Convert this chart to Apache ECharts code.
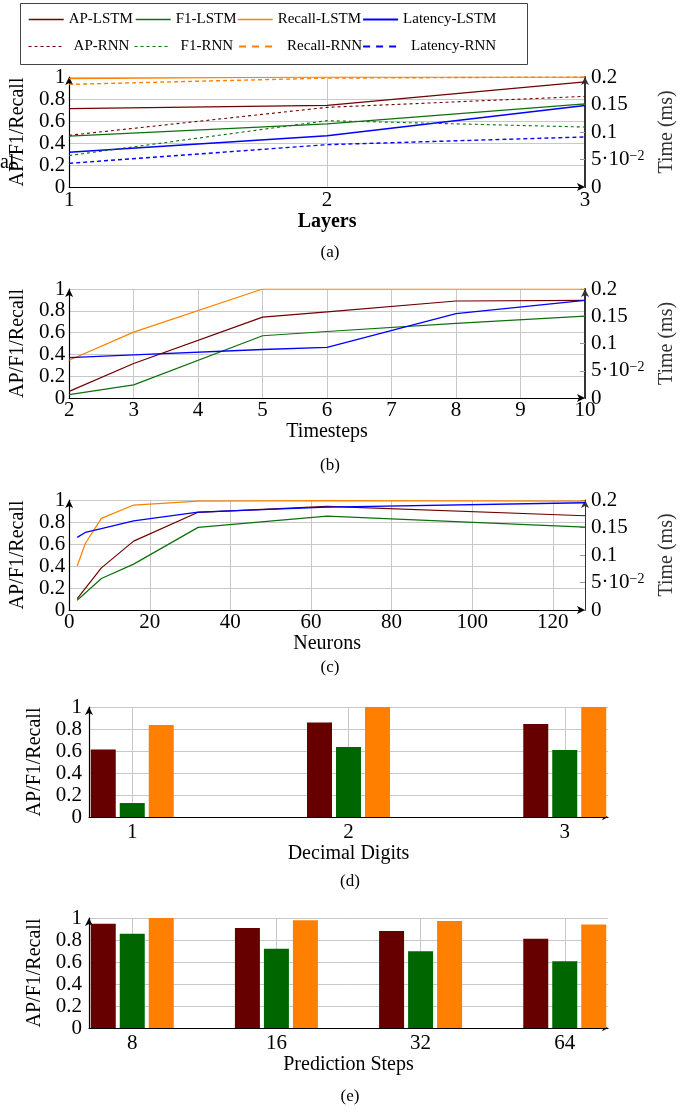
<!DOCTYPE html>
<html>
<head>
<meta charset="utf-8">
<title>LSTM / RNN</title>
<script src="https://cdn.jsdelivr.net/npm/echarts@6.0.0/dist/echarts.min.js"></script>
<style>
html, body { margin: 0; padding: 0; background: #fff; }
#chart { width: 694px; height: 1113px; }
</style>
</head>
<body>
<div id="chart"></div>
<script>
// (a) layers
var layers = [1, 2, 3];
var apLstmA = [0.713, 0.742, 0.956];
var f1LstmA = [0.462, 0.573, 0.755];
var recallLstmA = [0.985, 1.0, 1.0];
var latencyLstmA = [0.063, 0.093, 0.148];
var apRnnA = [0.47, 0.724, 0.824];
var f1RnnA = [0.286, 0.603, 0.545];
var recallRnnA = [0.933, 0.99, 1.0];
var latencyRnnA = [0.043, 0.077, 0.091];

// (b) timesteps
var timesteps = [2, 3, 5, 6, 8, 10];
var apB = [0.061, 0.316, 0.742, 0.791, 0.89, 0.896];
var f1B = [0.031, 0.12, 0.571, 0.61, 0.684, 0.752];
var recallB = [0.347, 0.604, 1.0, 1.0, 1.0, 1.0];
var latencyB = [0.074, 0.079, 0.089, 0.093, 0.155, 0.179];

// (c) neurons
var neurons = [2, 4, 8, 16, 32, 64, 128];
var apC = [0.104, null, 0.383, 0.626, 0.888, 0.942, 0.857];
var f1C = [0.088, null, 0.286, 0.417, 0.751, 0.854, 0.754];
var recallC = [0.40, 0.605, 0.833, 0.954, 0.99, 0.995, 0.99];
var latencyC = [0.132, 0.141, 0.148, 0.162, 0.178, 0.187, 0.195];

// (d) decimal digits
var digitPos = [1, 2, 3];
var digitLabels = ['1', '2', '3'];
var apD = [0.614, 0.858, 0.846];
var f1D = [0.127, 0.636, 0.608];
var recallD = [0.837, 1.0, 1.0];

// (e) prediction steps
var stepPos = [0, 1, 2, 3];
var stepLabels = ['8', '16', '32', '64'];
var apE = [0.948, 0.909, 0.881, 0.811];
var f1E = [0.857, 0.72, 0.698, 0.607];
var recallE = [1.0, 0.979, 0.973, 0.942];

var timeTickLabels = ['0', '5·10{sup|−2}', '0.1', '0.15', '0.2'];
var legendNames = ['AP-LSTM', 'F1-LSTM', 'Recall-LSTM', 'Latency-LSTM',
                   'AP-RNN', 'F1-RNN', 'Recall-RNN', 'Latency-RNN'];

var FONT = 'Liberation Serif';
var C_AP = '#700000', C_F1 = '#0d700d', C_RE = '#ff8000', C_LAT = '#0000ff';
var C_AP_BAR = '#660000', C_F1_BAR = '#006600';
var GRID_C = '#c8c8c8';

function pairs(xs, ys) {
    return xs.map(function (x, i) { return [x, ys[i]]; });
}

function line(name, xs, ys, axis, yAxis, color, width, type) {
    return {
        type: 'line', name: name, xAxisIndex: axis, yAxisIndex: yAxis,
        data: pairs(xs, ys), symbol: 'none', connectNulls: true, silent: true,
        lineStyle: { color: color, width: width, type: type || 'solid' },
        itemStyle: { color: color }
    };
}

function bar(name, xs, ys, axis, yAxis, color) {
    return {
        type: 'bar', name: name, xAxisIndex: axis, yAxisIndex: yAxis,
        data: pairs(xs, ys), barWidth: 25, barGap: '16%', silent: true,
        itemStyle: { color: color }
    };
}

function leftAxis(grid, gap, margin) {
    return {
        type: 'value', gridIndex: grid, position: 'left', min: 0, max: 1, interval: 0.2,
        name: 'AP/F1/Recall', nameLocation: 'middle', nameRotate: 90, nameGap: gap,
        nameTextStyle: { fontFamily: FONT, fontSize: 20, color: '#000' },
        axisLine: { show: true, onZero: false, symbol: ['none', 'arrow'], symbolSize: [6, 8],
            lineStyle: { color: '#000', width: 1.2 } },
        axisTick: { show: false },
        axisLabel: { fontFamily: FONT, fontSize: 21, color: '#000', margin: margin },
        splitLine: { show: true, lineStyle: { color: GRID_C, width: 1 } }
    };
}

function rightAxis(grid, w) {
    return {
        type: 'value', gridIndex: grid, position: 'right', min: 0, max: 0.2, interval: 0.05,
        name: 'Time (ms)', nameLocation: 'middle', nameRotate: 90, nameGap: 72,
        nameTextStyle: { fontFamily: FONT, fontSize: 20, color: '#333' },
        axisLine: { show: true, onZero: false, symbol: ['none', 'arrow'], symbolSize: [6, 8],
            lineStyle: { color: '#333', width: w } },
        axisTick: { show: true, inside: true, length: 5, lineStyle: { color: '#999' } },
        axisLabel: {
            fontFamily: FONT, fontSize: 21, color: '#000', margin: 6,
            formatter: function (v) { return timeTickLabels[Math.round(v / 0.05)]; },
            rich: { sup: { fontFamily: FONT, fontSize: 14, color: '#000', verticalAlign: 'top' } }
        },
        splitLine: { show: false }
    };
}

function bottomAxis(grid, min, max, interval, name, gap, margin, bold, showMax) {
    return {
        type: 'value', gridIndex: grid, min: min, max: max, interval: interval,
        name: name, nameLocation: 'middle', nameGap: gap,
        nameTextStyle: { fontFamily: FONT, fontSize: 20, color: '#000', fontWeight: bold ? 'bold' : 'normal' },
        axisLine: { onZero: false, symbol: ['none', 'arrow'], symbolSize: [6, 8],
            lineStyle: { color: '#000', width: 1.2 } },
        axisTick: { show: false },
        axisLabel: { fontFamily: FONT, fontSize: 21, color: '#000', margin: margin, showMaxLabel: showMax },
        splitLine: { show: true, lineStyle: { color: GRID_C, width: 1 } }
    };
}

function catAxis(grid, min, max, pos, labels, name) {
    return {
        type: 'value', gridIndex: grid, min: min, max: max,
        name: name, nameLocation: 'middle', nameGap: 20,
        nameTextStyle: { fontFamily: FONT, fontSize: 20, color: '#000' },
        axisLine: { onZero: false, symbol: ['none', 'arrow'], symbolSize: [5, 6],
            lineStyle: { color: '#000', width: 1.2 } },
        axisTick: { show: false, customValues: pos },
        axisLabel: { fontFamily: FONT, fontSize: 21, color: '#000', margin: 5, customValues: pos,
            formatter: function (v) { return labels[pos.indexOf(v)]; } },
        splitLine: { show: true, lineStyle: { color: GRID_C, width: 1 } }
    };
}

// legend slots: left, top, extra text padding
var legendSlots = [
    [28, 12, 0], [135, 12, 0], [237, 12, 0], [362, 12, 0],
    [28, 39, 5], [134, 39, 6], [238, 39, 8], [362, 39, 8]
];
var legendLineOverride = [
    { color: C_AP, width: 1.4 }, { color: C_F1, width: 1.4 },
    { color: C_RE, width: 1.4 }, { color: C_LAT, width: 2.2 },
    { color: C_AP, width: 1.1, type: [3, 3] }, { color: C_F1, width: 1.1, type: [3, 3] },
    { color: C_RE, width: 2.2, type: [7, 6] }, { color: C_LAT, width: 2.2, type: [7, 6] }
];

function caption(text, x, y) {
    return { type: 'text', x: x, y: y, silent: true,
        style: { text: text, font: '17px "Liberation Serif"', fill: '#000', align: 'center', verticalAlign: 'middle' } };
}

var chart = echarts.init(document.getElementById('chart'), null, { renderer: 'canvas' });

var option = {
    backgroundColor: '#fff',
    animation: false,
    grid: [
        { left: 67, right: 109, top: 77, height: 110 },
        { left: 67, right: 109, top: 289, height: 109 },
        { left: 67, right: 109, top: 500, height: 110 },
        { left: 89, right: 86, top: 707, height: 110 },
        { left: 89, right: 86, top: 918, height: 110 }
    ],
    xAxis: [
        bottomAxis(0, 1, 3, 1, 'Layers', 21, 3, true, true),
        bottomAxis(1, 2, 10, 1, 'Timesteps', 21, 2, false, true),
        bottomAxis(2, 0, 128, 20, 'Neurons', 19, 2, false, false),
        catAxis(3, 0.8, 3.2, digitPos, digitLabels, 'Decimal Digits'),
        catAxis(4, -0.3, 3.3, stepPos, stepLabels, 'Prediction Steps')
    ],
    yAxis: [
        leftAxis(0, 36, 4), rightAxis(0, 2),
        leftAxis(1, 36, 4), rightAxis(1, 2),
        leftAxis(2, 36, 4), rightAxis(2, 1),
        leftAxis(3, 35, 7),
        leftAxis(4, 35, 7)
    ],
    legend: legendSlots.map(function (s, i) {
        return {
            data: [{ name: legendNames[i], lineStyle: legendLineOverride[i] }],
            left: s[0], top: s[1], padding: 0, itemWidth: 35, itemHeight: 10, itemGap: 0,
            selectedMode: false,
            itemStyle: { opacity: 0 },
            textStyle: { fontFamily: FONT, fontSize: 15, color: '#000', padding: [0, 0, 0, s[2]] }
        };
    }),
    graphic: [
        { type: 'rect', silent: true, shape: { x: 20.5, y: 3.5, width: 507, height: 61 },
          style: { fill: 'none', stroke: '#444', lineWidth: 1 } },
        { type: 'text', x: 0, y: 163, silent: true,
          style: { text: 'al', font: '20px "Liberation Serif"', fill: '#000', align: 'left', verticalAlign: 'middle' } },
        caption('(a)', 330, 253),
        caption('(b)', 330, 466),
        caption('(c)', 330, 668),
        caption('(d)', 350, 882),
        caption('(e)', 350, 1097)
    ],
    series: [
        // (a)
        line('AP-LSTM', layers, apLstmA, 0, 0, C_AP, 1.2),
        line('F1-LSTM', layers, f1LstmA, 0, 0, C_F1, 1.2),
        line('Recall-LSTM', layers, recallLstmA, 0, 0, C_RE, 1.2),
        line('Latency-LSTM', layers, latencyLstmA, 0, 1, C_LAT, 1.5),
        line('AP-RNN', layers, apRnnA, 0, 0, C_AP, 1.1, [3, 3]),
        line('F1-RNN', layers, f1RnnA, 0, 0, C_F1, 1.1, [3, 3]),
        line('Recall-RNN', layers, recallRnnA, 0, 0, C_RE, 1.4, [4, 3]),
        line('Latency-RNN', layers, latencyRnnA, 0, 1, C_LAT, 1.4, [4, 3]),
        // (b)
        line('AP-LSTM', timesteps, apB, 1, 2, C_AP, 1.2),
        line('F1-LSTM', timesteps, f1B, 1, 2, C_F1, 1.2),
        line('Recall-LSTM', timesteps, recallB, 1, 2, C_RE, 1.2),
        line('Latency-LSTM', timesteps, latencyB, 1, 3, C_LAT, 1.3),
        // (c)
        line('AP-LSTM', neurons, apC, 2, 4, C_AP, 1.2),
        line('F1-LSTM', neurons, f1C, 2, 4, C_F1, 1.2),
        line('Recall-LSTM', neurons, recallC, 2, 4, C_RE, 1.2),
        line('Latency-LSTM', neurons, latencyC, 2, 5, C_LAT, 1.3),
        // (d)
        bar('AP', digitPos, apD, 3, 6, C_AP_BAR),
        bar('F1', digitPos, f1D, 3, 6, C_F1_BAR),
        bar('Recall', digitPos, recallD, 3, 6, C_RE),
        // (e)
        bar('AP', stepPos, apE, 4, 7, C_AP_BAR),
        bar('F1', stepPos, f1E, 4, 7, C_F1_BAR),
        bar('Recall', stepPos, recallE, 4, 7, C_RE)
    ]
};

chart.setOption(option);
window.onresize = chart.resize;
</script>
</body>
</html>
